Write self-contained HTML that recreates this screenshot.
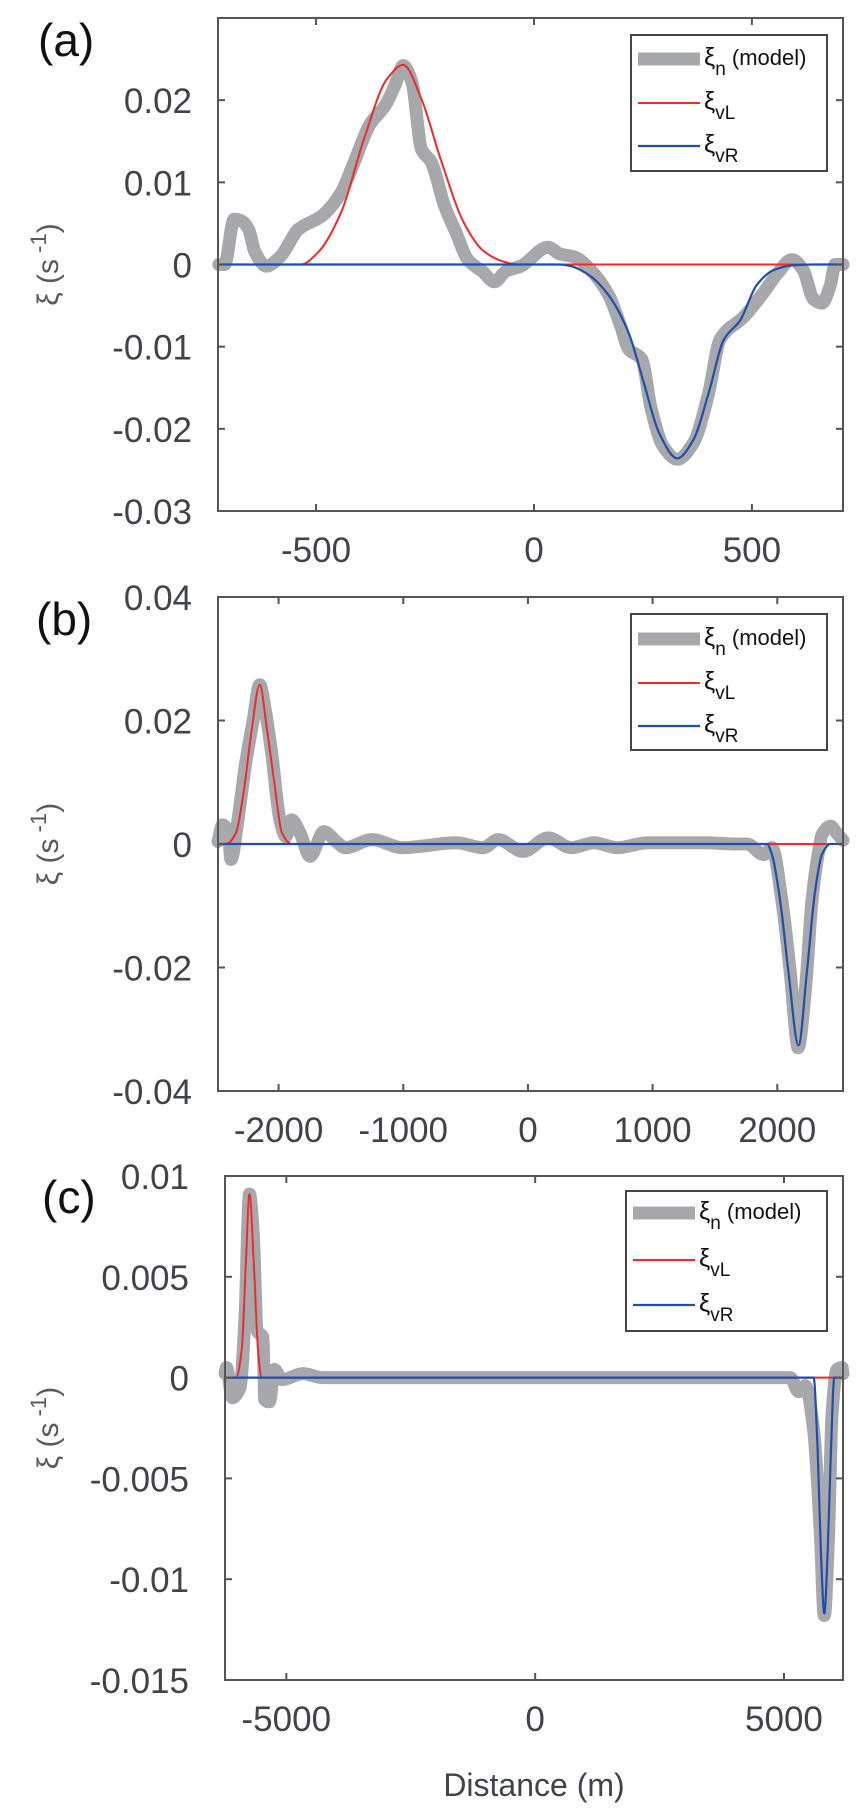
<!DOCTYPE html>
<html><head><meta charset="utf-8">
<style>
html,body{margin:0;padding:0;background:#fff;}
svg{display:block;font-family:"Liberation Sans",sans-serif;}
</style></head>
<body>
<svg id="fig" width="867" height="1809" viewBox="0 0 867 1809" xmlns="http://www.w3.org/2000/svg"></svg>
<script>
// ---------- Panel (a) data ----------
const aGrayX=[-723,-710,-688,-671,-655,-640,-614,-583,-540,-487,-442,-416,-376,-342,-319,-300,-280,-258,-236,-205,-179,-152,-117,-91,-64,-30,32,59,94,129,172,199,217,247,269,296,329,366,401,427,481,527,557,592,618,641,661,680,691,709];
const aGrayV=[0,0,0.0055,0.0053,0.0043,0.0015,-0.0002,0.0009,0.0043,0.0059,0.0088,0.012,0.0171,0.0193,0.0218,0.0242,0.0222,0.014,0.0125,0.0071,0.0039,0.0006,-0.0009,-0.0021,-0.0008,-0.0002,0.0021,0.0013,0.0009,-0.0006,-0.0038,-0.0075,-0.0103,-0.0115,-0.0176,-0.0221,-0.0237,-0.0217,-0.0156,-0.0091,-0.0064,-0.0034,-0.0012,0.0006,-0.0007,-0.0042,-0.0047,-0.0025,0,0];
const aRedX=[-723,-560,-535,-495,-442,-390,-337,-300,-258,-214,-161,-117,-73,-38,0,709];
const aRedV=[0,0,0,0.0015,0.0064,0.0153,0.0226,0.0243,0.0201,0.0128,0.0051,0.0017,0.0004,0,0,0];
const aBlueX=[-723,0,60,85,129,172,217,252,287,329,366,401,436,473,511,549,595,640,709];
const aBlueV=[0,0,0,-0.0002,-0.0014,-0.0038,-0.0083,-0.0144,-0.0205,-0.0236,-0.0213,-0.0156,-0.0091,-0.0068,-0.0025,-0.0007,-0.0001,0,0];
const aXTicks=[-500,0,500];
const aYTicks=[0.03,0.02,0.01,0,-0.01,-0.02,-0.03];
const aYLabels=["","0.02","0.01","0","-0.01","-0.02","-0.03"];

// ---------- Panel (b) data ----------
const bGrayX=[-2486,-2449,-2403,-2382,-2326,-2264,-2203,-2151,-2111,-2056,-1989,-1942,-1896,-1828,-1748,-1636,-1527,-1467,-1250,-1005,-576,-359,-239,-39,162,347,532,717,961,1421,1667,1757,1890,1957,2037,2104,2158,2166,2225,2278,2332,2358,2426,2479,2527];
const bGrayV=[0.0004,0.0031,0.0018,-0.0025,0.0039,0.0131,0.0201,0.0258,0.0222,0.0148,0.0039,0.0012,0.0039,0.0018,-0.002,0.002,0.0002,-0.0006,0.0007,-0.0006,0.0002,-0.0006,0.0007,-0.0012,0.001,-0.0006,0.0002,-0.0006,0.0002,0.0002,0,0,-0.0017,-0.0006,-0.0092,-0.0208,-0.0323,-0.033,-0.0237,-0.0092,-0.0011,0.0015,0.0029,0.0017,0.0006];
const bRedX=[-2486,-2418,-2342,-2281,-2219,-2151,-2096,-2034,-1973,-1896,0,2527];
const bRedV=[0,0,0.0018,0.0083,0.018,0.0258,0.019,0.0099,0.0018,0,0,0];
const bBlueX=[-2486,0,1917,1957,2023,2090,2170,2237,2304,2358,2426,2527];
const bBlueV=[0,0,0,-0.0017,-0.0092,-0.0208,-0.0326,-0.0208,-0.0075,-0.0017,0,0];
const bXTicks=[-2000,-1000,0,1000,2000];
const bYTicks=[0.04,0.02,0,-0.02,-0.04];
const bYLabels=["0.04","0.02","0","-0.02","-0.04"];

// ---------- Panel (c) data ----------
const cGrayX=[-6232,-6202,-6086,-5931,-5830,-5740,-5663,-5585,-5470,-5432,-5340,-5239,-5086,-4664,-4282,0,5127,5294,5428,5596,5730,5810,5897,5964,6065,6165,6186];
const cGrayV=[0.0002,0.0005,-0.001,-0.0005,0.003,0.0091,0.0071,0.0023,0.002,-0.0011,-0.0012,0.0004,-0.0001,0.0002,0,0,0,-0.0007,-0.0004,-0.0026,-0.0077,-0.0118,-0.0077,-0.0019,0.0004,0.0005,0.0002];
const cRedX=[-6232,-6011,-5895,-5816,-5740,-5650,-5569,-5495,0,6186];
const cRedV=[0,0,0.0014,0.0055,0.0091,0.0055,0.0014,0,0,0];
const cBlueX=[-6232,0,5596,5676,5743,5810,5877,5944,6011,6186];
const cBlueV=[0,0,0,-0.0036,-0.0087,-0.0117,-0.0087,-0.0036,0,0];
const cXTicks=[-5000,0,5000];
const cYTicks=[0.01,0.005,0,-0.005,-0.01,-0.015];
const cYLabels=["0.01","0.005","0","-0.005","-0.01","-0.015"];

const NS="http://www.w3.org/2000/svg";
const svg=document.getElementById('fig');
function mk(tag,attrs,parent){const e=document.createElementNS(NS,tag);for(const k in attrs)e.setAttribute(k,attrs[k]);(parent||svg).appendChild(e);return e;}

// monotone cubic (Fritsch-Carlson) in pixel space
function curvePath(xs,vs,sx,sy){
  const X=xs.map(sx),Y=vs.map(sy),n=X.length;
  const d=[],m=new Array(n);
  for(let i=0;i<n-1;i++){const h=X[i+1]-X[i];d.push(h===0?0:(Y[i+1]-Y[i])/h);}
  m[0]=d[0];m[n-1]=d[n-2];
  for(let i=1;i<n-1;i++){
    if(d[i-1]*d[i]<=0)m[i]=0;
    else{const h0=X[i]-X[i-1],h1=X[i+1]-X[i];const w1=2*h1+h0,w2=h1+2*h0;m[i]=(w1+w2)/(w1/d[i-1]+w2/d[i]);}
  }
  let p='M'+X[0].toFixed(2)+','+Y[0].toFixed(2);
  for(let i=0;i<n-1;i++){
    const h=(X[i+1]-X[i])/3;
    p+=' C'+(X[i]+h).toFixed(2)+','+(Y[i]+m[i]*h).toFixed(2)+' '+(X[i+1]-h).toFixed(2)+','+(Y[i+1]-m[i+1]*h).toFixed(2)+' '+X[i+1].toFixed(2)+','+Y[i+1].toFixed(2);
  }
  return p;
}

function panel(cfg){
  const g=mk('g',{});
  
  
  const {L,R,T,B,xmin,xmax,ymin,ymax}=cfg;
  const sx=x=>L+(x-xmin)/(xmax-xmin)*(R-L);
  const sy=v=>B-(v-ymin)/(ymax-ymin)*(B-T);
  const clipId='clip-'+cfg.id;
  const cp=mk('clipPath',{id:clipId},g);
  mk('rect',{x:L-8,y:T,width:R-L+16,height:B-T},cp);
  const series=mk('g',{'clip-path':'url(#'+clipId+')'},g);
  const gp=mk('path',{d:curvePath(cfg.grayX,cfg.grayV,sx,sy),fill:'none',stroke:'#a7a8ab','stroke-width':13,'stroke-linejoin':'round','stroke-linecap':'round'},series);
  
  
  const rp=mk('path',{d:curvePath(cfg.redX,cfg.redV,sx,sy),fill:'none',stroke:'#ee2a2a','stroke-width':2},series);
  
  
  const bp=mk('path',{d:curvePath(cfg.blueX,cfg.blueV,sx,sy),fill:'none',stroke:'#1f4fa8','stroke-width':2.2},series);
  
  
  const box=mk('rect',{x:L,y:T,width:R-L,height:B-T,fill:'none',stroke:'#555','stroke-width':2},g);
  
  
  cfg.xTicks.forEach(t=>{
    const x=sx(t);
    mk('line',{x1:x,y1:B,x2:x,y2:B-7,stroke:'#555','stroke-width':2},g);
    mk('line',{x1:x,y1:T,x2:x,y2:T+7,stroke:'#555','stroke-width':2},g);
    const tx=mk('text',{x:x,y:B+51,'text-anchor':'middle','font-size':35,fill:'#404349'},g);
    tx.textContent=String(t);
    
    
  });
  cfg.yTicks.forEach((t,i)=>{
    const y=sy(t);
    mk('line',{x1:L,y1:y,x2:L+7,y2:y,stroke:'#555','stroke-width':2},g);
    mk('line',{x1:R,y1:y,x2:R-7,y2:y,stroke:'#555','stroke-width':2},g);
    if(cfg.yLabels[i]){
      const ty=mk('text',{x:cfg.labRight,y:y+13,'text-anchor':'end','font-size':35,fill:'#404349'},g);
      ty.textContent=cfg.yLabels[i];
      
      
    }
  });
  const yc=(T+B)/2;
  const yt=mk('text',{x:0,y:0,transform:'translate(58,'+yc+') rotate(-90)','text-anchor':'middle','font-size':30,fill:'#58595b'},g);
  
  
  const t1=mk('tspan',{},yt);t1.textContent='ξ (s';
  const t2=mk('tspan',{dy:-12,'font-size':22},yt);t2.textContent=' -1';
  const t3=mk('tspan',{dy:12},yt);t3.textContent=')';
  const pl=mk('text',{x:cfg.letterX,y:cfg.letterY,'font-size':46,fill:'#111'},g);
  pl.textContent='('+cfg.id+')';
  
  
  const lg=mk('g',{},g);
  
  
  const Lg=cfg.leg;
  mk('rect',{x:Lg.x,y:Lg.y,width:Lg.w,height:Lg.h,fill:'#fff',stroke:'#444','stroke-width':2},lg);
  const entries=[['#a7a8ab',13,'n',' (model)'],['#ee2a2a',2,'vL',''],['#1f4fa8',2.2,'vR','']];
  entries.forEach((en,i)=>{
    const y=Lg.y+Lg.rows[i];
    const le=mk('g',{},lg);
    
    
    mk('line',{x1:Lg.x+7,y1:y,x2:Lg.x+69,y2:y,stroke:en[0],'stroke-width':en[1]},le);
    const tx=mk('text',{x:Lg.x+73,y:y+6,'font-size':25,fill:'#111'},le);
    const s1=mk('tspan',{},tx);s1.textContent='ξ';
    const s2=mk('tspan',{dy:10,'font-size':19},tx);s2.textContent=en[2];
    if(en[3]){const s3=mk('tspan',{dy:-10,'font-size':22},tx);s3.textContent=en[3];}
  });
}

panel({id:'a',L:218,R:843,T:18,B:511,xmin:-725,xmax:709,ymin:-0.03,ymax:0.03,
  grayX:aGrayX,grayV:aGrayV,redX:aRedX,redV:aRedV,blueX:aBlueX,blueV:aBlueV,
  xTicks:aXTicks,yTicks:aYTicks,yLabels:aYLabels,labRight:192,letterX:38,letterY:56,
  leg:{x:631,y:35,w:196,h:136,rows:[24,68,111]}});
panel({id:'b',L:218,R:843,T:597,B:1091,xmin:-2486,xmax:2527,ymin:-0.04,ymax:0.04,
  grayX:bGrayX,grayV:bGrayV,redX:bRedX,redV:bRedV,blueX:bBlueX,blueV:bBlueV,
  xTicks:bXTicks,yTicks:bYTicks,yLabels:bYLabels,labRight:192,letterX:36,letterY:635,
  leg:{x:631,y:614,w:196,h:136,rows:[25,69,112]}});
panel({id:'c',L:225,R:843,T:1176,B:1680,xmin:-6232,xmax:6186,ymin:-0.015,ymax:0.01,
  grayX:cGrayX,grayV:cGrayV,redX:cRedX,redV:cRedV,blueX:cBlueX,blueV:cBlueV,
  xTicks:cXTicks,yTicks:cYTicks,yLabels:cYLabels,labRight:189,letterX:42,letterY:1213,
  leg:{x:626,y:1191,w:201,h:140,rows:[22,69,114]}});

const xt=mk('text',{x:534,y:1796,'text-anchor':'middle','font-size':32,fill:'#404349'});
xt.textContent='Distance (m)';


</script>
</body></html>
